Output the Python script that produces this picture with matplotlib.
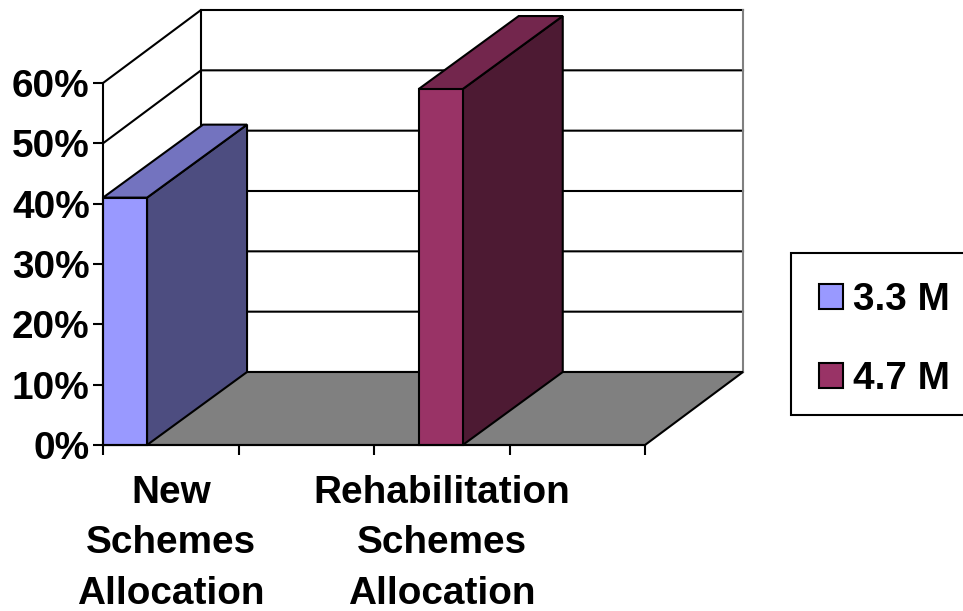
import matplotlib
matplotlib.use("Agg")
import matplotlib.pyplot as plt
from matplotlib.patches import Polygon, Patch, Rectangle

plt.rcParams['font.family'] = ['Liberation Sans', 'DejaVu Sans']
plt.rcParams['font.weight'] = 'bold'

categories = ["New\nSchemes\nAllocation", "Rehabilitation\nSchemes\nAllocation"]
category_pos = [0.5, 2.5]
series_names = ["3.3 M", "4.7 M"]
series_values = [41, 59]
bar_left = [0.0, 2.33]
bar_width = 0.325
y_ticks = [0, 10, 20, 30, 40, 50, 60]
y_labels = ["0%", "10%", "20%", "30%", "40%", "50%", "60%"]
x_ticks = [0, 1, 2, 3, 4]
front_colors = ["#9999FF", "#993366"]
top_colors = ["#7373BF", "#73264D"]
side_colors = ["#4D4D80", "#4D1A33"]
floor_color = "#808080"

W, H = 963, 611
LW = 1.5
FS = 27.9
fig = plt.figure(figsize=(W / 100, H / 100), dpi=100, facecolor="white")
ax = fig.add_axes([103 / W, (H - 445) / H, 542 / W, 362 / H])
ax.set_xlim(0, 4)
ax.set_ylim(0, 60)
ax.patch.set_visible(False)
for s in ("top", "right"):
    ax.spines[s].set_visible(False)
for s in ("left", "bottom"):
    ax.spines[s].set_linewidth(LW)
    ax.spines[s].set_zorder(6)

# oblique depth offset, in data units
dx = 98 / 135.5
dy = 73 / (362 / 60)
bar_dx = 100 / 135.5


def poly(pts, fc, z):
    ax.add_patch(Polygon(pts, closed=True, facecolor=fc, edgecolor="black",
                         linewidth=LW, joinstyle="miter", clip_on=False, zorder=z))


# walls and gridlines
for v in y_ticks:
    ax.plot([0, dx, 4 + dx], [v, v + dy, v + dy], color="black", lw=LW,
            clip_on=False, zorder=1, solid_joinstyle="miter")
ax.plot([dx, dx], [dy, 60 + dy], color="black", lw=LW, clip_on=False, zorder=1)
ax.plot([4 + dx, 4 + dx], [dy, 60 + dy], color="#808080", lw=LW, clip_on=False, zorder=1)

# floor
poly([(0, 0), (4, 0), (4 + dx, dy), (dx, dy)], floor_color, 2)

# bars
for i, (x0, v) in enumerate(zip(bar_left, series_values)):
    x1 = x0 + bar_width
    poly([(x1, 0), (x1 + bar_dx, dy), (x1 + bar_dx, v + dy), (x1, v)], side_colors[i], 3)
    poly([(x0, v), (x1, v), (x1 + bar_dx, v + dy), (x0 + bar_dx, v + dy)], top_colors[i], 3)
    poly([(x0, 0), (x1, 0), (x1, v), (x0, v)], front_colors[i], 4)

# axes ticks
ax.set_yticks(y_ticks)
ax.set_yticklabels(y_labels, fontsize=FS, fontweight="bold")
ax.set_xticks(x_ticks)
ax.set_xticklabels([])
ax.set_xticks(category_pos, minor=True)
ax.set_xticklabels(categories, minor=True, fontsize=FS, fontweight="bold", linespacing=1.53)
ax.tick_params(axis="y", length=7.2, width=LW, pad=2.4, color="black")
ax.tick_params(axis="x", which="major", length=7, width=LW, color="black")
ax.tick_params(axis="x", which="minor", length=0, pad=21.3)

# legend
fig.add_artist(Rectangle((791 / W, (H - 415) / H), 180 / W, 162 / H, transform=fig.transFigure,
                         facecolor="white", edgecolor="black", linewidth=LW))
handles = [Patch(facecolor=c, edgecolor="black", linewidth=LW) for c in front_colors]
leg = fig.legend(handles, series_names, loc="center left", bbox_to_anchor=(819 / W, (H - 339.5) / H),
                 frameon=False, prop={"size": FS, "weight": "bold"}, handlelength=0.62,
                 handleheight=0.62, handletextpad=0.25, labelspacing=1.1, borderpad=0,
                 borderaxespad=0)

fig.savefig("out.png", dpi=100)
